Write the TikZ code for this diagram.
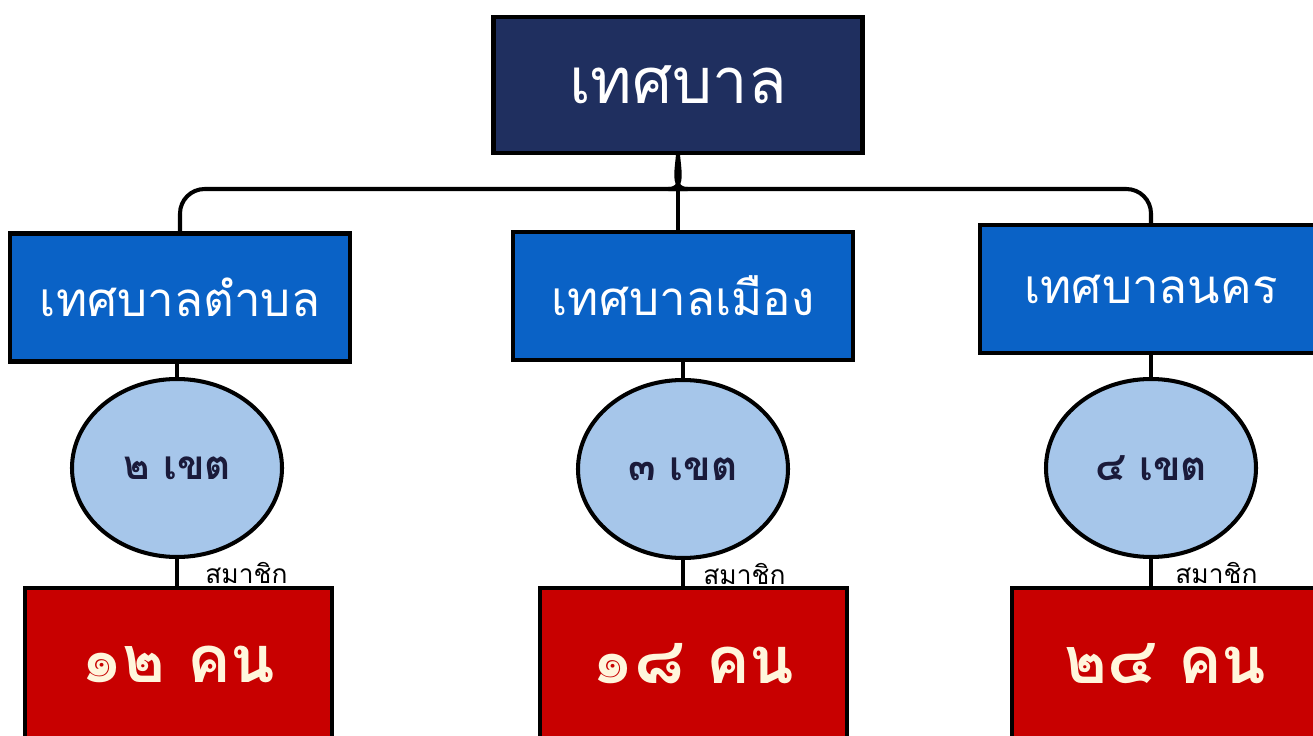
\documentclass[tikz,border=0pt]{standalone}
\usepackage{fontspec}
\newfontfamily\thai[Script=Thai]{Loma}
\usetikzlibrary{shapes.geometric,calc}
\definecolor{navy}{HTML}{1F2F5F}
\definecolor{boxblue}{HTML}{0A62C6}
\definecolor{circblue}{HTML}{A6C6EA}
\definecolor{boxred}{HTML}{C80000}
\definecolor{cream}{HTML}{FFF6DC}
\definecolor{darktext}{HTML}{1A1A3A}
\tikzset{
  outline/.style={draw=black, line width=2.3pt},
  topbox/.style={outline, fill=navy, text=white, minimum width=369*0.02cm, minimum height=136*0.02cm, inner sep=0pt, font=\thai\fontsize{36}{40}\selectfont},
  midbox/.style={outline, fill=boxblue, text=white, minimum width=340*0.02cm, minimum height=128*0.02cm, inner sep=0pt, font=\thai\fontsize{27}{30}\selectfont},
  zone/.style={outline, ellipse, fill=circblue, text=darktext, minimum width=210*0.02cm, minimum height=178*0.02cm, inner sep=0pt, font=\thai\bfseries\fontsize{23}{26}\selectfont},
  redbox/.style={outline, fill=boxred, text=cream, minimum width=307*0.02cm, minimum height=152*0.02cm, inner sep=0pt, font=\thai\bfseries\fontsize{37}{40}\selectfont},
  member/.style={text=black, inner sep=0pt, font=\thai\fontsize{15}{17}\selectfont},
  conn/.style={draw=black, line width=2.3pt},
}
\begin{document}
\begin{tikzpicture}[x=0.02cm, y=-0.02cm]
\useasboundingbox (0,0) rectangle (1313,736);
\clip (0,0) rectangle (1313,736);
\fill[white] (0,0) rectangle (1313,736);
% top
\node[topbox] (top) at (678,85) {เทศบาล};
% second level
\node[midbox] (l) at (180,297.5) {เทศบาลตำบล};
\node[midbox] (m) at (683,296) {เทศบาลเมือง};
\node[midbox, minimum width=342*0.02cm] (r) at (1151,289) {เทศบาลนคร};
% zones
\node[zone] (cl) at (177,468) {๒ เขต};
\node[zone] (cm) at (683,469) {๓ เขต};
\node[zone] (cr) at (1151,468) {๔ เขต};
% red
\node[redbox] (rl) at (178.5,664) {๑๒ คน};
\node[redbox] (rm) at (693.5,664) {๑๘ คน};
\node[redbox] (rr) at (1165.5,664) {๒๔ คน};
% bracket
\coordinate (hub) at ($(top.south)+(0,34)$);
\draw[conn, rounded corners=14] (l.north) -- (l.north |- hub) -- ($(hub)+(-15,0)$) .. controls ($(hub)+(-5,0)$) and ($(top.south)+(-2,20)$) .. (top.south);
\draw[conn, rounded corners=14] (r.north) -- (r.north |- hub) -- ($(hub)+(15,0)$) .. controls ($(hub)+(5,0)$) and ($(top.south)+(2,20)$) .. (top.south);
\draw[conn] (top.south) -- (top.south |- m.north);
% verticals
\draw[conn] (cl.north |- l.south) -- (cl.north);
\draw[conn] (cm.north |- m.south) -- (cm.north);
\draw[conn] (cr.north |- r.south) -- (cr.north);
\draw[conn] (cl.south) -- (cl.south |- rl.north);
\draw[conn] (cm.south) -- (cm.south |- rm.north);
\draw[conn] (cr.south) -- (cr.south |- rr.north);
% labels
\node[member, anchor=west] (ml) at ($(cl.south)+(28,14)$) {สมาชิก};
\node[member, anchor=west] (mm) at ($(cm.south)+(20,14)$) {สมาชิก};
\node[member, anchor=west] (mr) at ($(cr.south)+(24,14)$) {สมาชิก};
\end{tikzpicture}
\end{document}
